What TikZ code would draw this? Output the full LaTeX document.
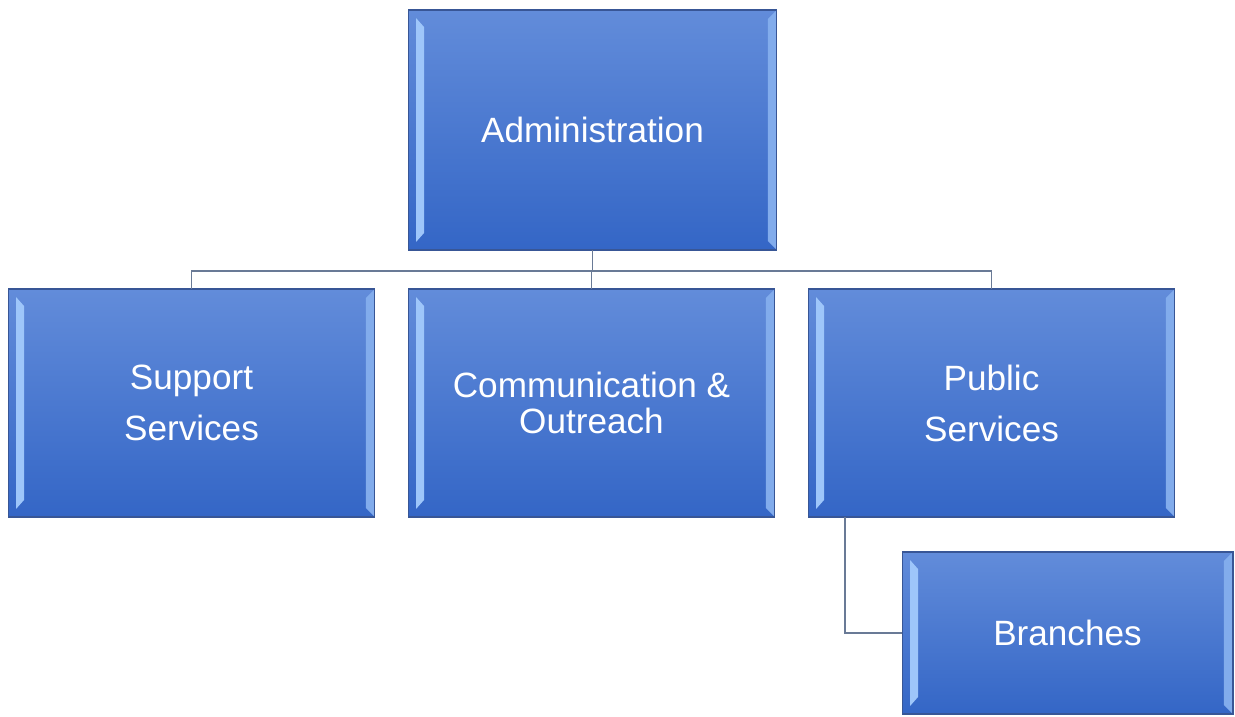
\documentclass[tikz,border=0pt]{standalone}
\usepackage{fontspec}
\setmainfont{Liberation Sans}
\usetikzlibrary{calc}

\definecolor{boxtop}{RGB}{98,140,218}
\definecolor{boxbot}{RGB}{52,102,198}
\definecolor{boxedge}{RGB}{56,86,150}
\definecolor{bevelhi}{RGB}{158,198,250}
\definecolor{bevelmid}{RGB}{130,172,236}
\definecolor{linkcol}{RGB}{105,122,150}

\tikzset{
  orgbox/.style={draw=boxedge, line width=0.6pt, top color=boxtop, bottom color=boxbot,
    text=white, align=center, inner sep=0pt, outer sep=0pt,
    font=\fontsize{20}{29}\selectfont,
    path picture={
      \fill[bevelhi] ($(path picture bounding box.north west)+(8,8)$) -- ++(8,9)
        -- ($(path picture bounding box.south west)+(16,-17)$) -- ++(-8,9) -- cycle;
      \fill[bevelmid] ($(path picture bounding box.north east)+(-1,1)$) -- ++(-8,8)
        -- ($(path picture bounding box.south east)+(-9,-9)$) -- ++(8,8) -- cycle;
    }},
  link/.style={draw=linkcol, line width=1.1pt}
}

\begin{document}
\begin{tikzpicture}[x=0.02cm, y=-0.02cm]

\clip (0,0) rectangle (1235,717);
\fill[white] (0,0) rectangle (1235,717);

% top row
\node[orgbox, minimum width=7.38cm, minimum height=4.8cm] (admin) at (592.5,130) {Administration};

% middle row
\node[orgbox, minimum width=7.34cm, minimum height=4.56cm] (support) at (191.5,403) {Support\\Services};
\node[orgbox, minimum width=7.34cm, minimum height=4.56cm, font=\fontsize{20}{20}\selectfont] (comm) at (591.5,403) {Communication \&\\Outreach};
\node[orgbox, minimum width=7.34cm, minimum height=4.56cm] (public) at (991.5,403) {Public\\Services};

% bottom
\node[orgbox, minimum width=6.62cm, minimum height=3.24cm] (branches) at (1067.5,633) {Branches};

\coordinate (bus) at (592.5,271);
\coordinate (pubdrop) at (845,517);

\draw[link] (admin.south) -- (bus);
\foreach \n in {support,comm,public}
    \draw[link] (bus) -| (\n.north);

\draw[link] (pubdrop) |- (branches.west);

\end{tikzpicture}
\end{document}
